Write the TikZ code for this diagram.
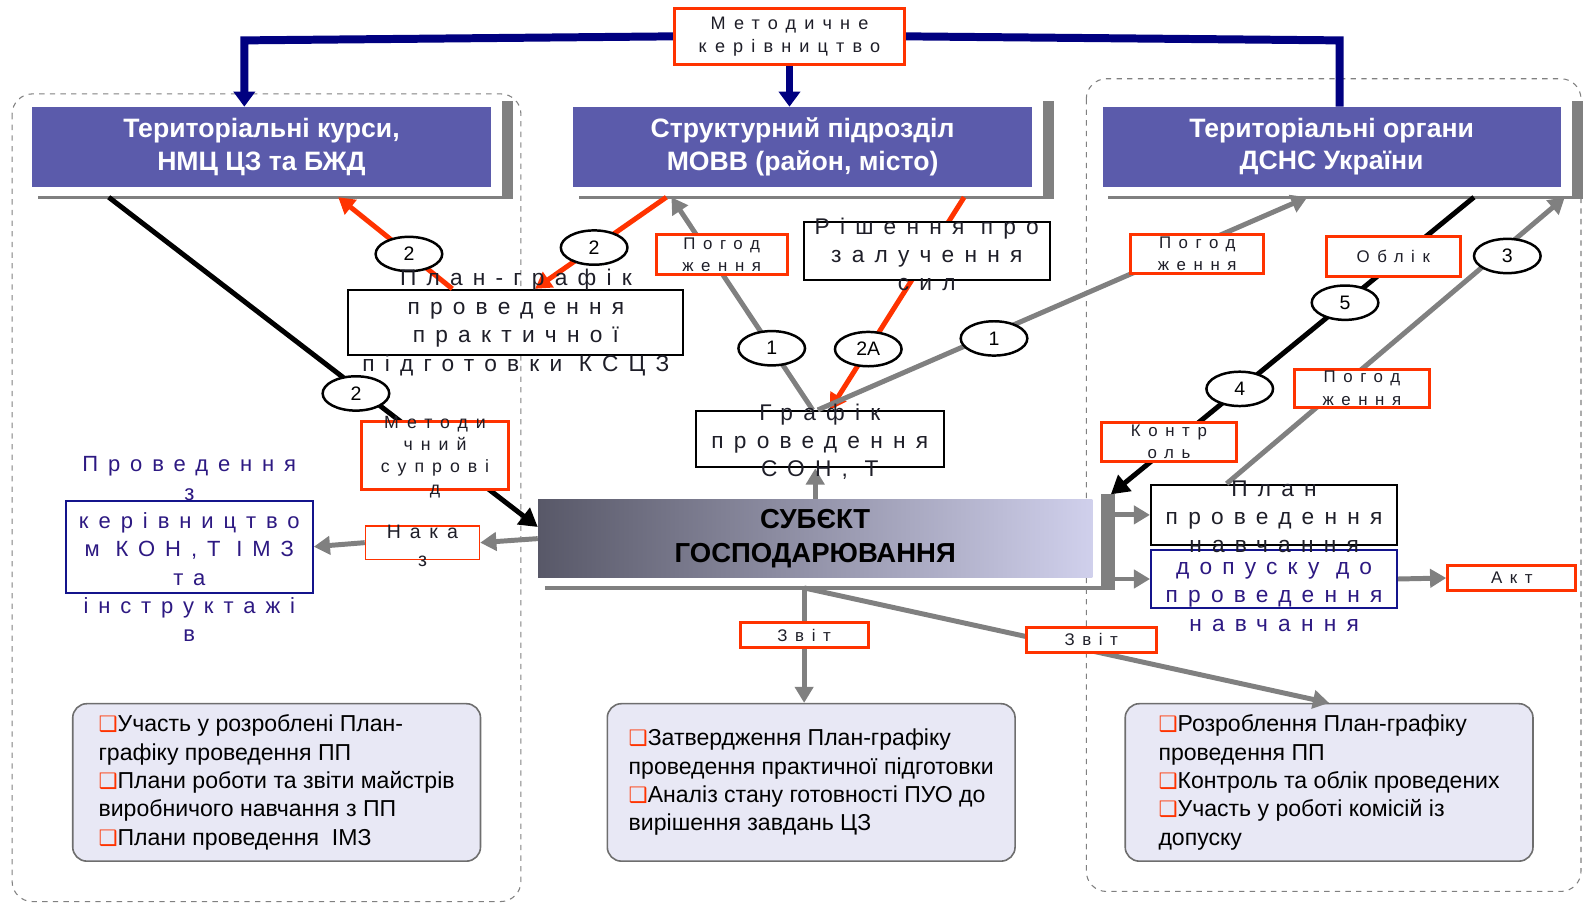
\documentclass[tikz,border=0pt]{standalone}
\usepackage{fontspec}
\setmainfont{Liberation Sans}
\newfontfamily\trackfont[LetterSpace=45]{Liberation Sans}
\newfontfamily\dingfont{DejaVu Sans}
\usepackage{tikz}
\usetikzlibrary{calc, arrows.meta, positioning, shapes.geometric}

\definecolor{navyline}{RGB}{0,0,128}
\definecolor{titleblue}{RGB}{91,91,171}
\definecolor{shadowgrey}{RGB}{128,128,128}
\definecolor{linkgrey}{RGB}{128,128,128}
\definecolor{hotred}{RGB}{255,51,0}
\definecolor{notefill}{RGB}{232,232,245}
\definecolor{noteedge}{RGB}{110,110,110}
\definecolor{subjdark}{RGB}{88,88,104}
\definecolor{subjlight}{RGB}{208,208,236}
\definecolor{inktext}{RGB}{45,25,130}
\definecolor{boxnavy}{RGB}{20,20,140}
\definecolor{tracktext}{RGB}{30,30,40}

\newcommand{\bx}{{\dingfont\fontsize{12}{16}\selectfont\textcolor{hotred}{❑}}}

\begin{document}
\begin{tikzpicture}[x=0.02cm, y=-0.02cm,
        titlebox/.style={rectangle, fill=titleblue, minimum width=9.08cm, minimum height=1.58cm, text=white, font=\fontsize{15}{18.2}\selectfont\bfseries, align=center},
        redtag/.style={rectangle, draw=hotred, line width=1.7pt, fill=white, inner sep=0pt},
        plainbox/.style={rectangle, draw, line width=1.1pt, fill=white, inner sep=0pt},
        oval/.style={ellipse, draw=black, text=black, line width=1.4pt, fill=white, minimum width=1.32cm, minimum height=0.68cm, inner sep=0pt, font=\fontsize{11}{13}\selectfont},
        tracksmall/.style={font=\trackfont\fontsize{9.5}{12.5}\selectfont, text=tracktext, align=center},
        trackbig/.style={font=\trackfont\fontsize{12.8}{16}\selectfont, text=tracktext, align=center},
        notebox/.style={rectangle, rounded corners=0.28cm, draw=noteedge, line width=0.9pt, fill=notefill, minimum width=8.08cm, minimum height=3.12cm, align=left, font=\fontsize{13}{16}\selectfont},
        container/.style={draw=shadowgrey, dashed, rounded corners=0.4cm, line width=0.6pt},
        navyarrow/.style={draw=navyline, line width=4.5pt, -{Triangle[length=0.3cm, width=0.42cm]}},
        blackarrow/.style={-{Triangle[length=0.36cm, width=0.4cm]}, line width=2.8pt},
        greyarrow/.style={-{Triangle[length=0.32cm, width=0.36cm]}, line width=2.8pt, draw=linkgrey},
        redarrow/.style={-{Triangle[length=0.32cm, width=0.36cm]}, line width=2.8pt, draw=hotred}
    ]
        \useasboundingbox (0,0) rectangle (1568,897);

        % Dashed frames
        \draw[container] (12,93) rectangle (516,893);
        \draw[container] (1076,78) rectangle (1566,883);

        % Top level
        \node[redtag, minimum width=4.56cm, minimum height=1.12cm, tracksmall, font=\trackfont\fontsize{10.2}{13}\selectfont] (metod) at (782,36) {Методичне\\керівництво};
        \node[titlebox] (kurs) at (259,145.5) {Територіальні курси,\\НМЦ ЦЗ та БЖД};
        \node[titlebox] (movv) at (795,145.5) {Структурний підрозділ\\МОВВ (район, місто)};
        \node[titlebox] (dsns) at (1319,145.5) {Територіальні органи\\ДСНС України};
        \foreach \b in {kurs, movv, dsns} {
            \fill[shadowgrey] ([shift={(11,-6)}]\b.north east) rectangle ([shift={(22,10)}]\b.south east);
            \draw[shadowgrey, line width=1.6pt] ([shift={(6,10)}]\b.south west) -- ([shift={(22,10)}]\b.south east);
        }

        % Subject
        \node[rectangle, left color=subjdark, right color=subjlight, minimum width=10.98cm, minimum height=1.54cm, font=\fontsize{15.5}{18.8}\selectfont\bfseries, align=center] (subj) at (807.5,533.5) {СУБЄКТ\\ГОСПОДАРЮВАННЯ};
        \fill[shadowgrey] ([shift={(8,-5)}]subj.north east) rectangle ([shift={(22,10)}]subj.south east);
        \draw[shadowgrey, line width=2pt] ([shift={(7,10)}]subj.south west) -- ([shift={(22,10)}]subj.south east);

        % Documents
        \node[plainbox, minimum width=6.64cm, minimum height=1.3cm] (plan) at (511,319.5) {};
        \node[plainbox, minimum width=4.92cm, minimum height=1.12cm] (grafik) at (812,435) {};
        \node[plainbox, minimum width=4.88cm, minimum height=1.2cm] (planv) at (1262,510) {};
        \node[plainbox, draw=boxnavy, line width=1pt, minimum width=4.88cm, minimum height=1.14cm] (dopusk) at (1262,573.5) {};
        \node[plainbox, draw=boxnavy, line width=1pt, minimum width=4.9cm, minimum height=1.82cm] (kerbox) at (187.5,541.5) {};
        \node[redtag, line width=0.8pt, minimum width=2.26cm, minimum height=0.66cm] (nakaz) at (418.5,537.5) {};
        \node[redtag, tracksmall, minimum width=2.54cm, minimum height=0.5cm] (akt) at (1497.5,572.5) {Акт};

        % Notes
        \node[notebox] (kursnotes) at (274,775) {\bx Участь у розроблені План-\\графіку проведення ПП\\\bx Плани роботи та звіти майстрів\\виробничого навчання з ПП\\\bx Плани проведення\ \ ІМЗ};
        \node[notebox] (movvnotes) at (803.5,775) {\bx Затвердження План-графіку\\проведення практичної підготовки\\\bx Аналіз стану готовності ПУО до\\вирішення завдань ЦЗ};
        \node[notebox] (dsnsnotes) at (1316.5,775) {\bx Розроблення План-графіку\\проведення ПП\\\bx Контроль та облік проведених\\\bx Участь у роботі комісій із\\допуску};

        % Methodical guidance
        \coordinate (lturn) at (242,40);
        \coordinate (rturn) at (1327,40);
        \draw[navyarrow] (metod.west) -- (lturn) -- (lturn |- kurs.north);
        \draw[navyarrow] (metod.south) -- (metod.south |- movv.north);
        \draw[navyline, line width=4.5pt] (metod.east) -- (rturn) -- (rturn |- dsns.north);

        % Links of the left column
        \draw[blackarrow] ([xshift=1.52cm,yshift=-0.2cm]kurs.south west) -- ([yshift=0.23cm]subj.west)
            node[oval, pos=0.595, xshift=-0.16cm] (n2a) {2}
            node[redtag, minimum width=2.9cm, minimum height=1.34cm, pos=0.784, xshift=-0.2cm] (metsup) {};
        \draw[redarrow] ([xshift=-1.26cm]plan.north) -- ([xshift=1.52cm,yshift=-0.2cm]kurs.south)
            node[oval, pos=0.38] (n2b) {2};
        \draw[greyarrow] (subj.west) -- (nakaz.east);
        \draw[greyarrow] (nakaz.west) -- (kerbox.east);

        % Links of the middle column
        \draw[redarrow] ([xshift=-2.7cm,yshift=-0.2cm]movv.south) -- ([xshift=0.38cm]plan.north)
            node[oval, pos=0.55] (n2c) {2};
        \draw[greyarrow] ([xshift=-0.14cm]grafik.north) -- ([xshift=-2.6cm,yshift=-0.2cm]movv.south)
            node[oval, pos=0.29] (n1a) {1}
            node[redtag, tracksmall, minimum width=2.6cm, minimum height=0.78cm, pos=0.73, xshift=0.24cm] (pog1) {Погод\\ження};
        \draw[redarrow] ([xshift=3.2cm,yshift=-0.2cm]movv.south) -- ([xshift=0.2cm]grafik.north)
            node[oval, pos=0.714] (n2d) {2А};
        \node[plainbox, minimum width=4.88cm, minimum height=1.14cm] (rishennya) at (918,248.5) {};
        \draw[greyarrow] ([xshift=-0.04cm]grafik.north) -- ([xshift=-0.48cm,yshift=-0.2cm]dsns.south)
            node[oval, pos=0.36, yshift=-0.1cm] (n1b) {1}
            node[redtag, tracksmall, minimum width=2.64cm, minimum height=0.76cm, pos=0.775, yshift=-0.18cm] (pog2) {Погод\\ження};
        \draw[greyarrow] (subj.north) -- (subj.north |- grafik.south);

        % Links of the right column
        \draw[blackarrow] ([xshift=2.82cm,yshift=-0.2cm]dsns.south) -- ([xshift=0.36cm,yshift=0.1cm]subj.north east)
            node[redtag, tracksmall, minimum width=2.66cm, minimum height=0.78cm, pos=0.2, xshift=-0.16cm] (oblik) {Облік}
            node[oval, pos=0.355] (n5) {5}
            node[oval, pos=0.645] (n4) {4}
            node[redtag, tracksmall, minimum width=2.66cm, minimum height=0.78cm, pos=0.84, yshift=0.1cm] (kontrol) {Контр\\оль};
        \draw[greyarrow] ([xshift=-0.94cm]planv.north) -- ([xshift=4.62cm,yshift=-0.2cm]dsns.south)
            node[redtag, tracksmall, minimum width=2.66cm, minimum height=0.76cm, pos=0.4, yshift=-0.38cm] (pog3) {Погод\\ження}
            node[oval, pos=0.83, yshift=-0.2cm] (n3) {3};
        \coordinate (subjbar) at ([xshift=0.38cm]subj.east);
        \draw[greyarrow] (subjbar |- planv.west) -- (planv.west);
        \draw[greyarrow] (subjbar |- dopusk.west) -- (dopusk.west);
        \draw[greyarrow] (dopusk.east) -- (akt.west);

        % Reports
        \coordinate (subjout) at ([xshift=-0.22cm,yshift=-0.2cm]subj.south);
        \draw[greyarrow] (subjout) -- (subjout |- movvnotes.north)
            node[redtag, tracksmall, minimum width=2.54cm, minimum height=0.5cm, pos=0.41] (zvit1) {Звіт};
        \draw[greyarrow] (subjout) -- (dsnsnotes.north)
            node[redtag, tracksmall, minimum width=2.58cm, minimum height=0.5cm, pos=0.547, yshift=0.22cm] (zvit2) {Звіт};

        % Texts of the documents
        \node[trackbig] (plantext) at (plan) {План-графік\\проведення\\практичної\\підготовки КСЦЗ};
        \node[trackbig] (grafiktext) at ([yshift=-0.05cm]grafik) {Графік\\проведення\\СОН, Т};
        \node[trackbig] (rishtext) at ([yshift=-0.07cm]rishennya) {Рішення про\\залучення\\сил};
        \node[trackbig] (planvtext) at ([yshift=-0.04cm]planv) {План\\проведення\\навчання};
        \node[trackbig, text=inktext] (dopusktext) at ([yshift=-0.35cm]dopusk) {допуску до\\проведення\\навчання};
        \node[trackbig, text=inktext, font=\trackfont\fontsize{12.4}{16}\selectfont] (kertext) at ([yshift=-0.05cm]kerbox) {Проведення\\з\\керівництво\\м КОН,Т ІМЗ\\та\\інструктажі\\в};
        \node[trackbig, font=\trackfont\fontsize{11}{16}\selectfont] (nakaztext) at ([yshift=-0.07cm]nakaz) {Нака\\з};
        \node[tracksmall, font=\trackfont\fontsize{10}{12.5}\selectfont] (metsuptext) at ([yshift=-0.03cm]metsup) {Методи\\чний\\супрові\\д};
    \end{tikzpicture}
\end{document}
